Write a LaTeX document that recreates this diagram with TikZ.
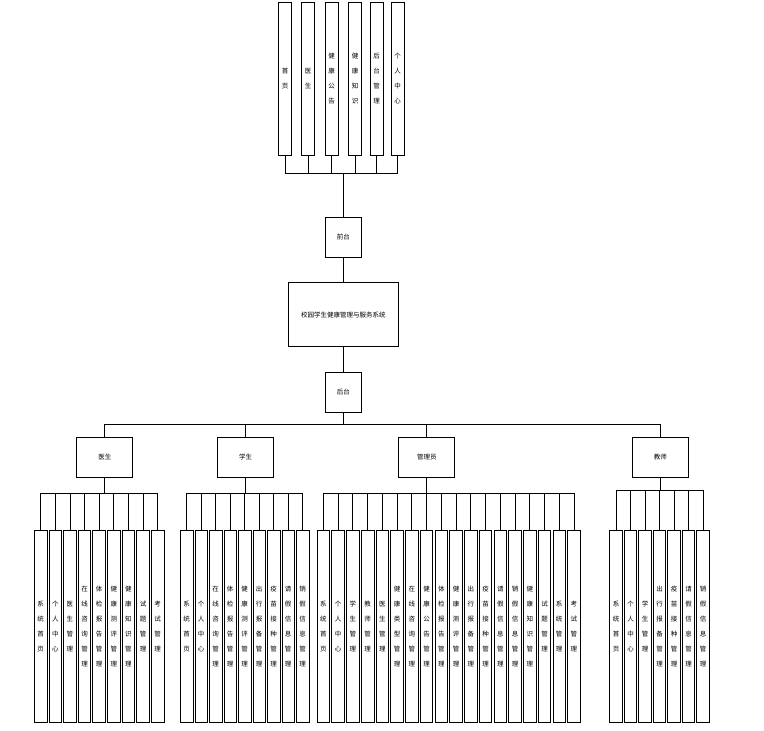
\documentclass[tikz,border=0pt]{standalone}
\usepackage{fontspec}
\setmainfont{Noto Sans CJK SC}
\begin{document}
\begin{tikzpicture}[x=1pt,y=-1pt,
  every node/.style={font=\fontsize{6.5}{15}\selectfont},
  tall/.style={draw=black,line width=0.8pt,inner sep=0pt,minimum width=12.6pt,minimum height=192pt,anchor=north west,align=center},
  topbox/.style={draw=black,line width=0.8pt,inner sep=0pt,minimum width=12.6pt,minimum height=153pt,anchor=north west,align=center},
  rolebox/.style={draw=black,line width=0.8pt,inner sep=0pt,minimum width=56pt,minimum height=40pt},
  link/.style={draw=black,line width=0.8pt}]
\useasboundingbox (0,0) rectangle (764,731);
\fill[white] (0,0) rectangle (764,731);

% top level
\node[rolebox,minimum width=36pt] (qt) at (343.3,237.3) {前台};
\node[rolebox,minimum width=110pt,minimum height=64pt] (sys) at (343.3,314.7) {校园学生健康管理与服务系统};
\node[rolebox,minimum width=36pt] (ht) at (343.3,392) {后台};
\draw[link] (qt.south) -- (sys.north);
\draw[link] (sys.south) -- (ht.north);

% front pages
\node[topbox] (t1) at (278.3,2) {首\\页};
\node[topbox] (t2) at (301.4,2) {医\\生};
\node[topbox] (t3) at (325.0,2) {健\\康\\公\\告};
\node[topbox] (t4) at (348.4,2) {健\\康\\知\\识};
\node[topbox] (t5) at (370.0,2) {后\\台\\管\\理};
\node[topbox] (t6) at (391.0,2) {个\\人\\中\\心};
\foreach \i in {1,...,6}{\draw[link] (qt.north) -- ++(0,-44) -| (t\i.south);}

% roles
\node[rolebox] (ys) at (104.8,457.2) {医生};
\node[rolebox] (xs) at (245.7,457.2) {学生};
\node[rolebox] (gly) at (426.8,457.2) {管理员};
\node[rolebox] (js) at (660.3,457.2) {教师};
\foreach \r in {ys,xs,gly,js}{\draw[link] (ht.south) -- ++(0,12) -| (\r.north);}

% doctor
\foreach \t [count=\i] in {{系\\统\\首\\页},{个\\人\\中\\心},{医\\生\\管\\理},{在\\线\\咨\\询\\管\\理},{体\\检\\报\\告\\管\\理},{健\\康\\测\\评\\管\\理},{健\\康\\知\\识\\管\\理},{试\\题\\管\\理},{考\\试\\管\\理}}{
  \node[tall] (d\i) at ({34+(\i-1)*14.62},530) {\t};
  \draw[link] (ys.south) -- ++(0,16) -| (d\i.north);
}

% student
\foreach \t [count=\i] in {{系\\统\\首\\页},{个\\人\\中\\心},{在\\线\\咨\\询\\管\\理},{体\\检\\报\\告\\管\\理},{健\\康\\测\\评\\管\\理},{出\\行\\报\\备\\管\\理},{疫\\苗\\接\\种\\管\\理},{请\\假\\信\\息\\管\\理},{销\\假\\信\\息\\管\\理}}{
  \node[tall] (s\i) at ({180+(\i-1)*14.5},530) {\t};
  \draw[link] (xs.south) -- ++(0,16) -| (s\i.north);
}

% admin
\foreach \t [count=\i] in {{系\\统\\首\\页},{个\\人\\中\\心},{学\\生\\管\\理},{教\\师\\管\\理},{医\\生\\管\\理},{健\\康\\类\\型\\管\\理},{在\\线\\咨\\询\\管\\理},{健\\康\\公\\告\\管\\理},{体\\检\\报\\告\\管\\理},{健\\康\\测\\评\\管\\理},{出\\行\\报\\备\\管\\理},{疫\\苗\\接\\种\\管\\理},{请\\假\\信\\息\\管\\理},{销\\假\\信\\息\\管\\理},{健\\康\\知\\识\\管\\理},{试\\题\\管\\理},{系\\统\\管\\理},{考\\试\\管\\理}}{
  \node[tall] (a\i) at ({316.7+(\i-1)*14.74},530) {\t};
  \draw[link] (gly.south) -- ++(0,16) -| (a\i.north);
}

% teacher
\foreach \t [count=\i] in {{系\\统\\首\\页},{个\\人\\中\\心},{学\\生\\管\\理},{出\\行\\报\\备\\管\\理},{疫\\苗\\接\\种\\管\\理},{请\\假\\信\\息\\管\\理},{销\\假\\信\\息\\管\\理}}{
  \node[tall] (j\i) at ({609.3+(\i-1)*14.5},530) {\t};
  \draw[link] (js.south) -- ++(0,13) -| (j\i.north);
}
\end{tikzpicture}
\end{document}
